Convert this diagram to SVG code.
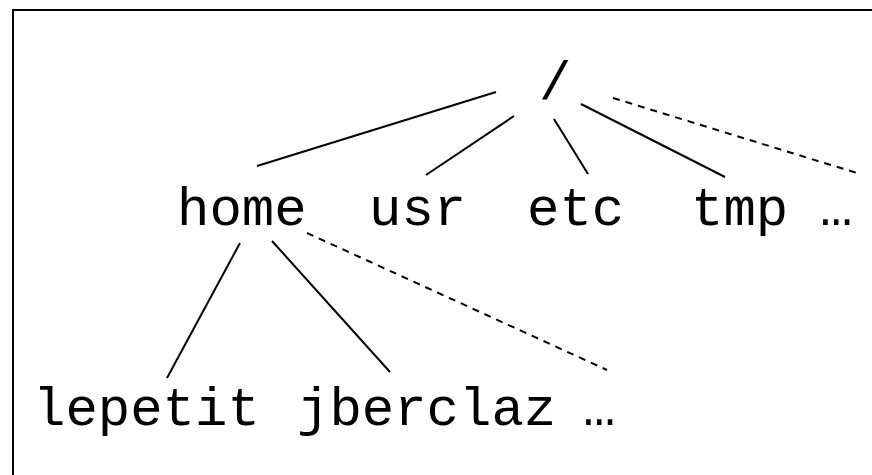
<svg xmlns="http://www.w3.org/2000/svg" width="872" height="475" viewBox="0 0 872 475">
  <style>
    .lbl { font-family: "Liberation Mono", "Courier New", monospace; font-size: 54px; fill: #000; }
    .edge { stroke: #000; stroke-width: 2; fill: none; }
    .more { stroke-dasharray: 7 6; }
  </style>
  <rect x="0" y="0" width="872" height="475" fill="#fff"/>
  <!-- frame; right and bottom sides run off the canvas -->
  <rect x="13" y="10" width="880" height="480" fill="none" stroke="#000" stroke-width="2"/>

  <g id="connectors">
    <line class="edge" x1="496" y1="92" x2="257" y2="166"/>
    <line class="edge" x1="514" y1="116" x2="426" y2="175"/>
    <line class="edge" x1="554" y1="119" x2="588" y2="174"/>
    <line class="edge" x1="581" y1="104" x2="725" y2="177"/>
    <line class="edge more" x1="613" y1="98" x2="857" y2="173"/>
    <line class="edge" x1="240" y1="243" x2="167" y2="378"/>
    <line class="edge" x1="272" y1="241" x2="390" y2="372"/>
    <line class="edge more" x1="307" y1="233" x2="607" y2="370"/>
  </g>

  <g id="root"><text class="lbl" x="539" y="99">/</text></g>
  <g id="home"><text class="lbl" x="177" y="225">home</text></g>
  <g id="usr"><text class="lbl" x="369" y="225">usr</text></g>
  <g id="etc"><text class="lbl" x="527" y="225">etc</text></g>
  <g id="tmp"><text class="lbl" x="691" y="225">tmp</text></g>
  <g id="root-more"><text class="lbl" x="820" y="225">…</text></g>
  <g id="lepetit"><text class="lbl" x="33" y="425">lepetit</text></g>
  <g id="jberclaz"><text class="lbl" x="297" y="425">jberclaz</text></g>
  <g id="home-more"><text class="lbl" x="583" y="425">…</text></g>
</svg>
